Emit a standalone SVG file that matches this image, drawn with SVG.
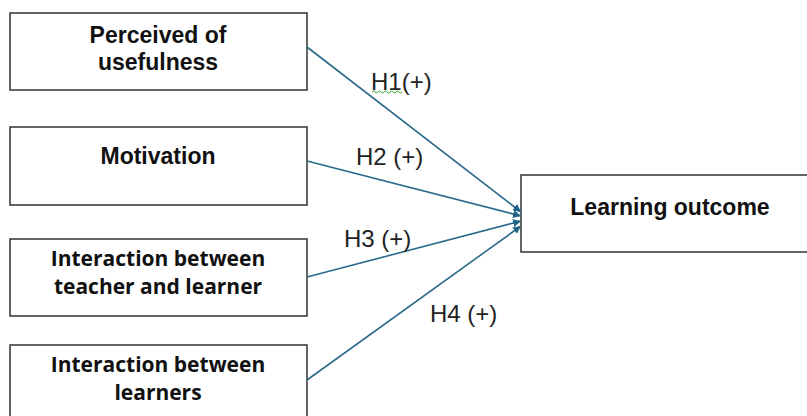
<svg xmlns="http://www.w3.org/2000/svg" width="807" height="416" viewBox="0 0 807 416">
<style>
.box{fill:#fff;stroke:#333;stroke-width:1.5}
.t{font-family:"Liberation Sans",Arial,sans-serif;font-weight:bold;font-size:23px;fill:#111;text-anchor:middle}
.t2{font-family:"Open Sans","Liberation Sans",sans-serif;font-weight:bold;font-size:21px;fill:#111;text-anchor:middle}
.lbl{font-family:"Liberation Sans",Arial,sans-serif;font-size:24px;fill:#222}
.c{stroke:#2b6a8a;stroke-width:1.6;fill:none}
</style>
<defs>
<marker id="ah" viewBox="0 0 10 10" refX="10" refY="5" markerWidth="8" markerHeight="8" markerUnits="userSpaceOnUse" orient="auto">
<path d="M0,0 L10,5 L0,10 z" fill="#1f6385"/>
</marker>
</defs>
<rect width="807" height="416" fill="#fff"/>
<g id="n1"><rect class="box" x="10" y="13" width="297" height="77"/><text class="t" x="158" y="43">Perceived of</text><text class="t" x="158" y="70">usefulness</text></g>
<g id="n2"><rect class="box" x="10" y="127" width="297" height="78"/><text class="t" x="158" y="164">Motivation</text></g>
<g id="n3"><rect class="box" x="10" y="239" width="297" height="77"/><text class="t2" x="158" y="266">Interaction between</text><text class="t2" x="158" y="294">teacher and learner</text></g>
<g id="n4"><rect class="box" x="10" y="345" width="297" height="80"/><text class="t2" x="158" y="372">Interaction between</text><text class="t2" x="158" y="400">learners</text></g>
<g id="n5"><rect class="box" x="521" y="175" width="295" height="77"/><text class="t" x="670" y="215">Learning outcome</text></g>
<g id="connectors">
<line class="c" x1="307" y1="47" x2="521" y2="212" marker-end="url(#ah)"/>
<line class="c" x1="307" y1="161" x2="521" y2="216" marker-end="url(#ah)"/>
<line class="c" x1="307" y1="277" x2="521" y2="221" marker-end="url(#ah)"/>
<line class="c" x1="307" y1="380" x2="521" y2="226" marker-end="url(#ah)"/>
<text class="lbl" x="371" y="90">H1(+)</text>
<path d="M372,92 q1.5,-2 3,0 t3,0 t3,0 t3,0 t3,0 t3,0 t3,0 t3,0 t3,0 t3,0" stroke="#3a3" stroke-width="1" fill="none"/>
<text class="lbl" x="356" y="165">H2 (+)</text>
<text class="lbl" x="344" y="247">H3 (+)</text>
<text class="lbl" x="430" y="322">H4 (+)</text>
</g>
</svg>
